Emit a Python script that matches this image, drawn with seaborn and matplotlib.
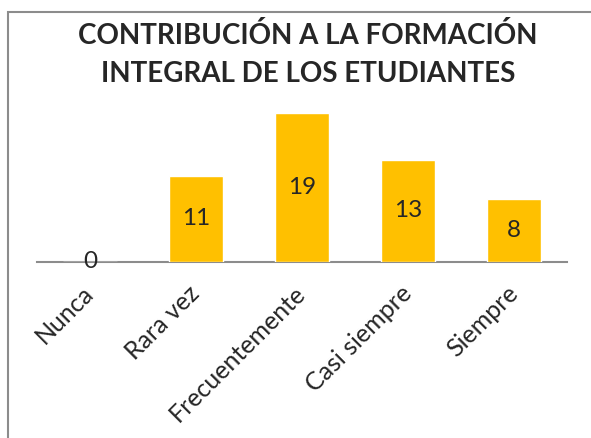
import numpy as np
import pandas as pd
import seaborn as sns
import matplotlib.pyplot as plt
from matplotlib.patches import Rectangle

categories = ["Nunca", "Rara vez", "Frecuentemente", "Casi siempre", "Siempre"]
values = [0, 11, 19, 13, 8]
title = "CONTRIBUCIÓN A LA FORMACIÓN\nINTEGRAL DE LOS ETUDIANTES"

bar_color = "#FFC000"
line_color = "#8c8c8c"


def main():
    sns.set_style("white")
    plt.rcParams["font.family"] = ["Lato", "DejaVu Sans"]

    df = pd.DataFrame({"categoria": categories, "valor": values})

    fig = plt.figure(figsize=(5.91, 4.38), dpi=100)
    ax = fig.add_axes([37 / 591, 176 / 438, 530 / 591, 157 / 438])

    sns.barplot(data=df, x="categoria", y="valor", color=bar_color,
                saturation=1, width=0.51, ax=ax)

    ax.set_ylim(0, 20)
    ax.set_xlim(-0.5, len(categories) - 0.5)
    ax.set_xlabel("")
    ax.set_ylabel("")
    ax.set_yticks([])

    for side in ["top", "right", "left"]:
        ax.spines[side].set_visible(False)
    ax.spines["bottom"].set_color(line_color)
    ax.spines["bottom"].set_linewidth(1.5)
    ax.spines["bottom"].set_zorder(0.5)

    ax.tick_params(axis="x", length=0, pad=20)
    plt.setp(ax.get_xticklabels(), rotation=45, ha="right", va="center",
             rotation_mode="anchor", fontsize=18)

    for c in ax.containers:
        ax.bar_label(c, label_type="center", fontsize=17.5)

    fig.text(308 / 591, 1 - 22 / 438, title, ha="center", va="top",
             fontsize=20, fontweight="bold", linespacing=1.55)

    # chart frame (only top and left edges show in the crop)
    fig.patches.append(Rectangle((8 / 591, -0.1), 1.2, 1.1 - 12 / 438,
                                 transform=fig.transFigure, fill=False,
                                 edgecolor=line_color, linewidth=1.5))

    fig.savefig("out.png", dpi=100)


if __name__ == "__main__":
    main()
